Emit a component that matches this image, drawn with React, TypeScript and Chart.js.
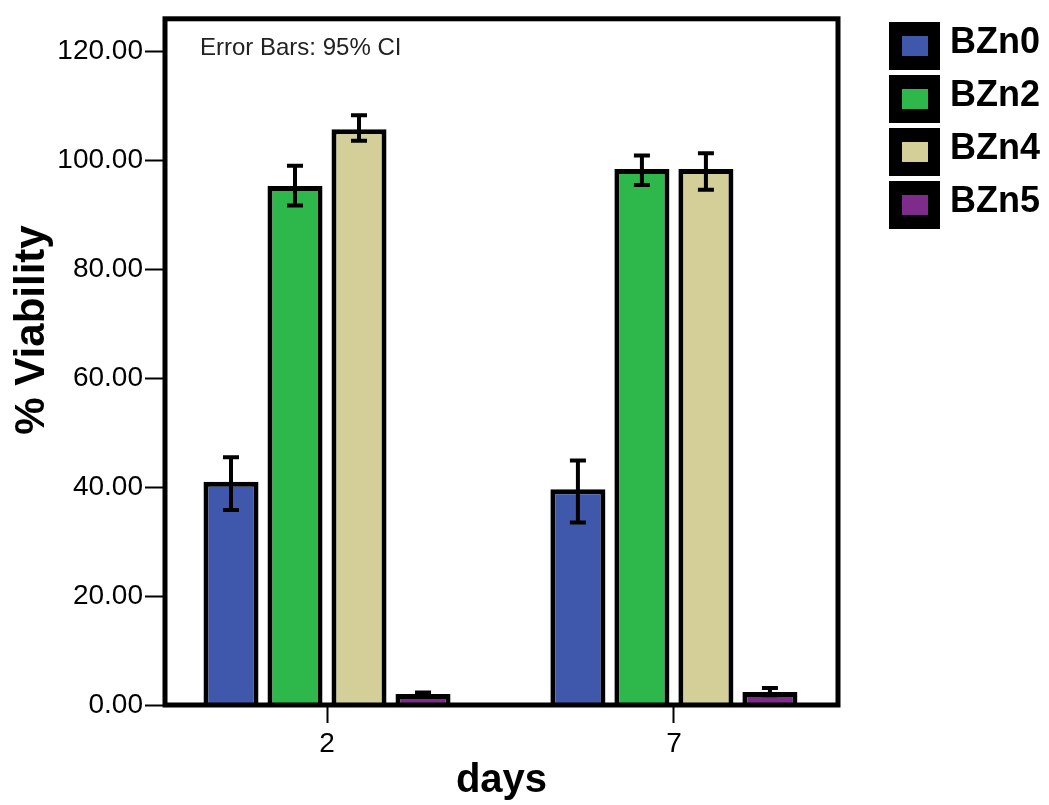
import React, { useEffect, useRef } from "react";
import { Chart, registerables } from "chart.js";

Chart.register(...registerables);

const categories = ["2", "7"];
const seriesNames = ["BZn0", "BZn2", "BZn4", "BZn5"];
const seriesColors = ["#3F58AB", "#2EB84B", "#D4CF99", "#7E2C8C"];

const bzn0 = [41.0, 39.6];
const bzn2 = [95.3, 98.4];
const bzn4 = [105.7, 98.4];
const bzn5 = [2.0, 2.4];

const bzn0Lo = [35.8, 33.5];
const bzn0Hi = [45.5, 44.9];
const bzn2Lo = [91.7, 95.5];
const bzn2Hi = [99.0, 100.9];
const bzn4Lo = [103.6, 94.6];
const bzn4Hi = [108.3, 101.3];
const bzn5Lo = [1.6, 1.8];
const bzn5Hi = [2.3, 3.1];

const yTicks = [0, 20, 40, 60, 80, 100, 120];

const seriesValues = [bzn0, bzn2, bzn4, bzn5];
const seriesLo = [bzn0Lo, bzn2Lo, bzn4Lo, bzn5Lo];
const seriesHi = [bzn0Hi, bzn2Hi, bzn4Hi, bzn5Hi];

const FONT = "'Liberation Sans', Arial, sans-serif";

const overlayPlugin = {
  id: "overlay",
  afterDatasetsDraw(chart: any) {
    const ctx = chart.ctx;
    const yScale = chart.scales.y;
    ctx.save();
    ctx.strokeStyle = "#000";
    ctx.lineWidth = 4;
    chart.data.datasets.forEach((ds: any, i: number) => {
      const meta = chart.getDatasetMeta(i);
      meta.data.forEach((bar: any, j: number) => {
        const x = bar.x;
        const yl = yScale.getPixelForValue(seriesLo[i][j]);
        const yh = yScale.getPixelForValue(seriesHi[i][j]);
        ctx.beginPath();
        ctx.moveTo(x, yl);
        ctx.lineTo(x, yh);
        ctx.moveTo(x - 8, yl);
        ctx.lineTo(x + 8, yl);
        ctx.moveTo(x - 8, yh);
        ctx.lineTo(x + 8, yh);
        ctx.stroke();
      });
    });
    // frame
    const a = chart.chartArea;
    ctx.lineWidth = 5;
    ctx.strokeRect(a.left, a.top, a.right - a.left, a.bottom - a.top);
    // error bar note
    ctx.fillStyle = "#222";
    ctx.font = `24px ${FONT}`;
    ctx.textAlign = "left";
    ctx.textBaseline = "middle";
    ctx.fillText("Error Bars: 95% CI", 200, 48);
    ctx.restore();
  },
  afterDraw(chart: any) {
    const ctx = chart.ctx;
    ctx.save();
    // y title
    ctx.translate(32, 330);
    ctx.rotate(-Math.PI / 2);
    ctx.fillStyle = "#000";
    ctx.font = `bold 42px ${FONT}`;
    ctx.textAlign = "center";
    ctx.textBaseline = "middle";
    ctx.fillText("% Viability", 0, 0);
    ctx.restore();
    // legend
    ctx.save();
    seriesNames.forEach((name, k) => {
      const cy = 46 + k * 53;
      ctx.fillStyle = "#000";
      ctx.fillRect(889, cy - 24, 51, 48);
      ctx.fillStyle = seriesColors[k];
      ctx.fillRect(902, cy - 10, 26, 20);
      ctx.fillStyle = "#000";
      ctx.font = `bold 36px ${FONT}`;
      ctx.textAlign = "left";
      ctx.textBaseline = "middle";
      ctx.fillText(name, 950, cy - 3);
    });
    ctx.restore();
  },
};

export default function App() {
  const ref = useRef<HTMLCanvasElement | null>(null);
  useEffect(() => {
    if (!ref.current) return;
    const chart = new Chart(ref.current, {
      type: "bar",
      data: {
        datasets: seriesNames.map((name, i) => ({
          label: name,
          data: categories.map((_, j) => ({ x: j, y: seriesValues[i][j] })),
          backgroundColor: seriesColors[i],
          borderColor: "#000",
          borderWidth: 5,
          borderSkipped: "start",
          categoryPercentage: 0.738,
          barPercentage: 0.86,
        })),
      },
      options: {
        responsive: false,
        animation: false,
        layout: { padding: { top: 15, right: 211, bottom: 0, left: 0 } },
        plugins: { legend: { display: false }, tooltip: { enabled: false } },
        scales: {
          x: {
            type: "linear",
            min: -0.467,
            max: 1.473,
            offset: false,
            border: { display: false },
            grid: {
              display: true,
              offset: false,
              drawOnChartArea: false,
              drawTicks: true,
              tickLength: 18,
              tickWidth: 2,
              tickColor: "#000",
            },
            afterBuildTicks: (axis: any) => {
              axis.ticks = categories.map((_, i) => ({ value: i }));
            },
            afterFit: (axis: any) => {
              axis.height = 100;
            },
            ticks: {
              autoSkip: false,
              maxRotation: 0,
              padding: 4,
              color: "#000",
              font: { family: FONT, size: 28 },
              callback: (v: any) => categories[Math.round(v)] ?? "",
            },
            title: {
              display: true,
              text: "days",
              color: "#000",
              font: { family: FONT, size: 40, weight: "bold" },
              padding: { top: 0, bottom: 0 },
            },
          },
          y: {
            min: 0,
            max: 126,
            border: { display: false },
            grid: {
              display: true,
              drawOnChartArea: false,
              drawTicks: true,
              tickLength: 20,
              tickWidth: 2,
              tickColor: "#000",
            },
            afterBuildTicks: (axis: any) => {
              axis.ticks = yTicks.map((v) => ({ value: v }));
            },
            afterFit: (axis: any) => {
              axis.width = 165;
            },
            ticks: {
              padding: 2,
              color: "#000",
              font: { family: FONT, size: 28 },
              callback: (v: any) => Number(v).toFixed(2),
            },
          },
        },
      },
      plugins: [overlayPlugin],
    } as any);
    return () => chart.destroy();
  }, []);
  return (
    <div style={{ position: "absolute", left: 0, top: 0, width: 1049, height: 805, background: "#fff" }}>
      <canvas ref={ref} width={1049} height={805} />
    </div>
  );
}
